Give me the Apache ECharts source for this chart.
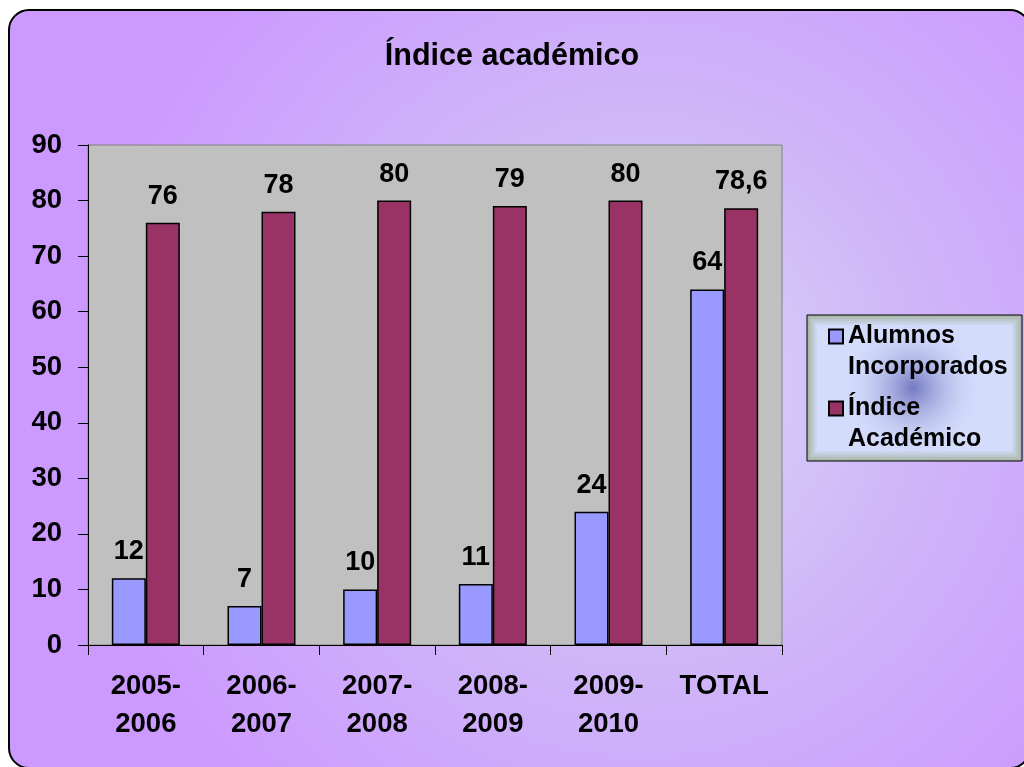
<!DOCTYPE html>
<html lang="es">
<head>
    <meta charset="UTF-8">
    <title>Índice académico</title>
    <script src="https://cdn.jsdelivr.net/npm/echarts@6/dist/echarts.min.js"></script>
    <style>
        html, body { margin: 0; padding: 0; background: #ffffff; }
        #main { width: 1024px; height: 767px; }
    </style>
</head>
<body>
<div id="main"></div>

<script type="text/javascript">
    var categories = ['2005-\n2006', '2006-\n2007', '2007-\n2008', '2008-\n2009', '2009-\n2010', 'TOTAL'];
    var alumnos = [12, 7, 10, 11, 24, 64];
    var indice = [76, 78, 80, 79, 80, 78.6];
    var seriesNames = ['Alumnos\nIncorporados', 'Índice\nAcadémico'];

    var font = '"Liberation Sans", Arial, sans-serif';

    var myChart = echarts.init(document.getElementById('main'));

    function labelFmt(p) {
        return String(p.value).replace('.', ',');
    }

    var barLabel = {
        show: true,
        position: 'top',
        distance: 13,
        color: '#000000',
        fontFamily: font,
        fontWeight: 'bold',
        fontSize: 27,
        formatter: labelFmt
    };

    // legend box: grey-green rim fading into a pale blue body
    var rimColors = ['#a9b7a9', '#b2beba', '#bac6ca', '#c3cddb', '#cbd5eb', '#d4dcfc'];
    var legendBox = [];
    for (var i = 0; i < rimColors.length; i++) {
        legendBox.push({
            type: 'rect',
            z: -8 + i * 0.1,
            shape: {x: 807 + i * 2, y: 315 + i * 2, width: 215 - i * 4, height: 146 - i * 4},
            style: i === 0
                ? {fill: rimColors[i], stroke: '#000000', lineWidth: 1}
                : {fill: rimColors[i]}
        });
    }
    legendBox.push({
        type: 'circle',
        z: -4,
        shape: {cx: 913, cy: 388, r: 72},
        style: {
            fill: new echarts.graphic.RadialGradient(0.5, 0.5, 0.5, [
                {offset: 0, color: 'rgba(110,116,190,0.95)'},
                {offset: 1, color: 'rgba(212,220,252,0)'}
            ])
        }
    });

    var option = {
        animation: false,
        graphic: [
            {
                type: 'rect',
                z: -10,
                shape: {x: 9, y: 10, width: 1021, height: 758, r: 20},
                style: {
                    fill: new echarts.graphic.RadialGradient(0.62, 0.5, 0.75, [
                        {offset: 0, color: '#d9d8f6'},
                        {offset: 0.5, color: '#cfb5f8'},
                        {offset: 1, color: '#cc99ff'}
                    ]),
                    stroke: '#000000',
                    lineWidth: 2
                }
            }
        ].concat(legendBox),
        title: {
            text: 'Índice académico',
            left: 'center',
            top: 36,
            textStyle: {
                color: '#000000',
                fontFamily: font,
                fontWeight: 'bold',
                fontSize: 30.5
            }
        },
        legend: {
            orient: 'vertical',
            left: 828,
            top: 290,
            padding: 0,
            itemGap: -21,
            itemWidth: 14,
            itemHeight: 14,
            icon: 'rect',
            data: seriesNames,
            formatter: function (name) {
                // blank first line keeps the marker beside the first text line
                return '\n' + name;
            },
            textStyle: {
                color: '#000000',
                fontFamily: font,
                fontWeight: 'bold',
                fontSize: 25,
                lineHeight: 31
            }
        },
        grid: {
            left: 88,
            right: 242,
            top: 145,
            bottom: 122,
            show: true,
            backgroundColor: '#c0c0c0',
            borderColor: '#808080',
            borderWidth: 1
        },
        xAxis: {
            type: 'category',
            data: categories,
            axisLine: {lineStyle: {color: '#000000', width: 1}},
            axisTick: {show: true, length: 10, lineStyle: {color: '#000000'}},
            axisLabel: {
                interval: 0,
                margin: 22,
                color: '#000000',
                fontFamily: font,
                fontWeight: 'bold',
                fontSize: 27.5,
                lineHeight: 38
            }
        },
        yAxis: {
            type: 'value',
            min: 0,
            max: 90,
            interval: 10,
            axisLine: {show: true, lineStyle: {color: '#000000', width: 1}},
            axisTick: {show: true, length: 10, lineStyle: {color: '#000000'}},
            splitLine: {show: false},
            axisLabel: {
                margin: 26,
                color: '#000000',
                fontFamily: font,
                fontWeight: 'bold',
                fontSize: 27.5
            }
        },
        series: [
            {
                name: seriesNames[0],
                type: 'bar',
                data: alumnos,
                barWidth: 34,
                barGap: '0%',
                itemStyle: {color: '#9999ff', borderColor: '#000000', borderWidth: 1.5},
                label: barLabel
            },
            {
                name: seriesNames[1],
                type: 'bar',
                data: indice,
                barWidth: 34,
                itemStyle: {color: '#993366', borderColor: '#000000', borderWidth: 1.5},
                label: barLabel
            }
        ]
    };

    myChart.setOption(option);
</script>
</body>
</html>
